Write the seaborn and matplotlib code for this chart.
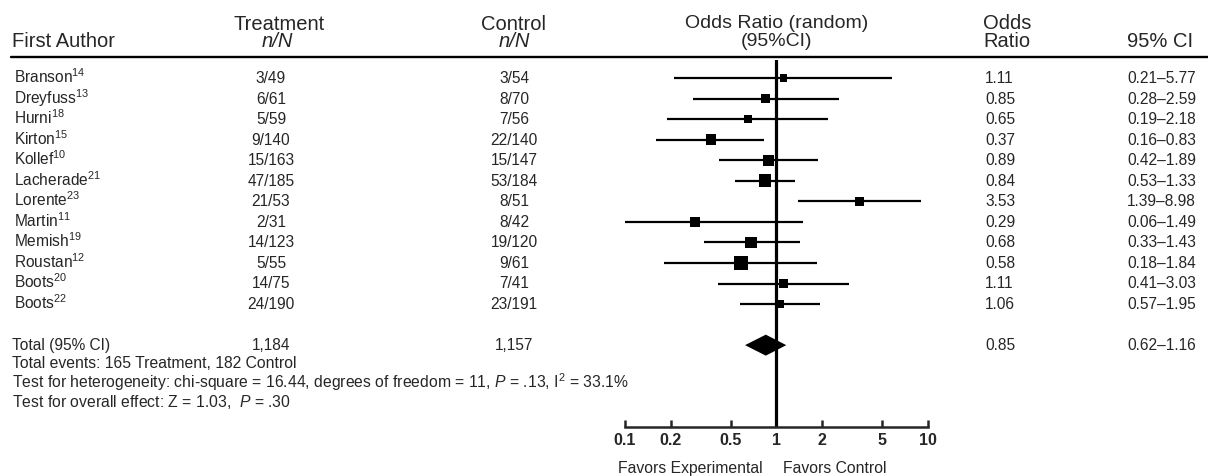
import numpy as np
import pandas as pd
import seaborn as sns
import matplotlib.pyplot as plt

# Study data
authors = ['Branson', 'Dreyfuss', 'Hurni', 'Kirton', 'Kollef', 'Lacherade',
           'Lorente', 'Martin', 'Memish', 'Roustan', 'Boots', 'Boots']
refs = ['14', '13', '18', '15', '10', '21', '23', '11', '19', '12', '20', '22']
treatment = ['3/49', '6/61', '5/59', '9/140', '15/163', '47/185',
             '21/53', '2/31', '14/123', '5/55', '14/75', '24/190']
control = ['3/54', '8/70', '7/56', '22/140', '15/147', '53/184',
           '8/51', '8/42', '19/120', '9/61', '7/41', '23/191']
odds_ratio = [1.11, 0.85, 0.65, 0.37, 0.89, 0.84, 3.53, 0.29, 0.68, 0.58, 1.11, 1.06]
ci_low = [0.21, 0.28, 0.19, 0.16, 0.42, 0.53, 1.39, 0.06, 0.33, 0.18, 0.41, 0.57]
ci_high = [5.77, 2.59, 2.18, 0.83, 1.89, 1.33, 8.98, 1.49, 1.43, 1.84, 3.03, 1.95]
# approximate weights (%) judged from the square sizes
weight = [4.5, 5.9, 5.9, 9.2, 9.2, 13.3, 5.9, 7.5, 11.1, 15.6, 7.5, 4.5]

total_treat = '1,184'
total_ctrl = '1,157'
total_or = 0.85
total_low = 0.62
total_high = 1.16
ticks = [0.1, 0.2, 0.5, 1, 2, 5, 10]
tick_labels = ['0.1', '0.2', '0.5', '1', '2', '5', '10']

sns.set_style('white')
plt.rcParams['font.family'] = ['Liberation Sans', 'DejaVu Sans']
plt.rcParams['mathtext.fontset'] = 'custom'
plt.rcParams['mathtext.rm'] = 'Liberation Sans'
plt.rcParams['mathtext.it'] = 'Liberation Sans:italic'

# row positions in pixel units (figure is 1208 x 476)
row0, step = 78, 20.55
rows = [row0 + step * i for i in range(len(authors))]
total_row = row0 + step * 13

df = pd.DataFrame({'author': authors, 'or': odds_ratio, 'lo': ci_low,
                   'hi': ci_high, 'w': weight, 'y': rows})

fig = plt.figure(figsize=(12.08, 4.76), dpi=100)
bg = fig.add_axes([0, 0, 1, 1])
bg.set_xlim(0, 1208)
bg.set_ylim(476, 0)
bg.axis('off')

# forest panel
ax = fig.add_axes([625 / 1208, 1 - 427 / 476, (928 - 625) / 1208, (427 - 60) / 476])
ax.set_xscale('log')
ax.set_xlim(0.1, 10)
ax.set_ylim(427, 60)
ax.patch.set_alpha(0)

ax.hlines(df['y'], df['lo'], df['hi'], color='black', lw=1.6)
sns.scatterplot(data=df, x='or', y='y', size='w', sizes=(30, 100), size_norm=(4.5, 15.6),
                marker='s', color='black', linewidth=0, legend=False, ax=ax, zorder=3)
ax.fill([total_low, total_or, total_high, total_or],
        [total_row, total_row - 10.5, total_row, total_row + 10.5], color='black', lw=0)
ax.axvline(1, color='black', lw=2.3)

for s in ['top', 'left', 'right']:
    ax.spines[s].set_visible(False)
ax.spines['bottom'].set_linewidth(1.8)
ax.set_xticks(ticks)
ax.set_xticklabels(tick_labels, fontweight='bold')
ax.minorticks_off()
ax.set_yticks([])
ax.set_xlabel('')
ax.set_ylabel('')
ax.tick_params(axis='x', direction='in', length=5, width=1.8, pad=4,
               labelsize=11.5, bottom=True)

# header
hs = 14.5
bg.text(12, 47, 'First Author', fontsize=hs, va='baseline')
bg.text(279, 30, 'Treatment', fontsize=hs, ha='center', va='baseline')
bg.text(277, 47, 'n/N', fontsize=hs, ha='center', va='baseline', style='italic')
bg.text(514, 30, 'Control', fontsize=hs, ha='center', va='baseline')
bg.text(514, 47, 'n/N', fontsize=hs, ha='center', va='baseline', style='italic')
bg.text(777, 27.5, 'Odds Ratio (random)', fontsize=14, ha='center', va='baseline')
bg.text(777, 46.5, '(95%CI)', fontsize=14, ha='center', va='baseline')
bg.text(983, 29, 'Odds', fontsize=hs, va='baseline')
bg.text(983, 47, 'Ratio', fontsize=hs, va='baseline')
bg.text(1127, 47, '95% CI', fontsize=hs, va='baseline')
bg.plot([11, 1208], [57, 57], color='black', lw=1.7)

# study rows
fs = 11.2
for i, y in enumerate(rows):
    yb = y + 5
    bg.text(14, yb, authors[i] + '$^{\\mathrm{' + refs[i] + '}}$', fontsize=fs, va='baseline')
    bg.text(271, yb, treatment[i], fontsize=fs, ha='center', va='baseline')
    bg.text(514, yb, control[i], fontsize=fs, ha='center', va='baseline')
    bg.text(985, yb, f'{odds_ratio[i]:.2f}', fontsize=fs, va='baseline')
    bg.text(1127, yb, f'{ci_low[i]:.2f}\u2013{ci_high[i]:.2f}', fontsize=fs, va='baseline')

yb = total_row + 5
bg.text(12, yb, 'Total (95% CI)', fontsize=fs, va='baseline')
bg.text(271, yb, total_treat, fontsize=fs, ha='center', va='baseline')
bg.text(514, yb, total_ctrl, fontsize=fs, ha='center', va='baseline')
bg.text(985, yb, f'{total_or:.2f}', fontsize=fs, va='baseline')
bg.text(1127, yb, f'{total_low:.2f}\u2013{total_high:.2f}', fontsize=fs, va='baseline')

ss = 11.3
bg.text(12, 368, 'Total events: 165 Treatment, 182 Control', fontsize=ss, va='baseline')
bg.text(12, 388, 'Test for heterogeneity: chi-square = 16.44, degrees of freedom = 11, '
        '$P$ = .13, I$^{\\mathrm{2}}$ = 33.1%', fontsize=ss, va='baseline')
bg.text(12, 407, 'Test for overall effect: Z = 1.03,  $P$ = .30', fontsize=ss, va='baseline')

bg.text(763, 473, 'Favors Experimental', fontsize=11.3, ha='right', va='baseline')
bg.text(783, 473, 'Favors Control', fontsize=11.3, ha='left', va='baseline')

fig.savefig('out.png', dpi=100)
